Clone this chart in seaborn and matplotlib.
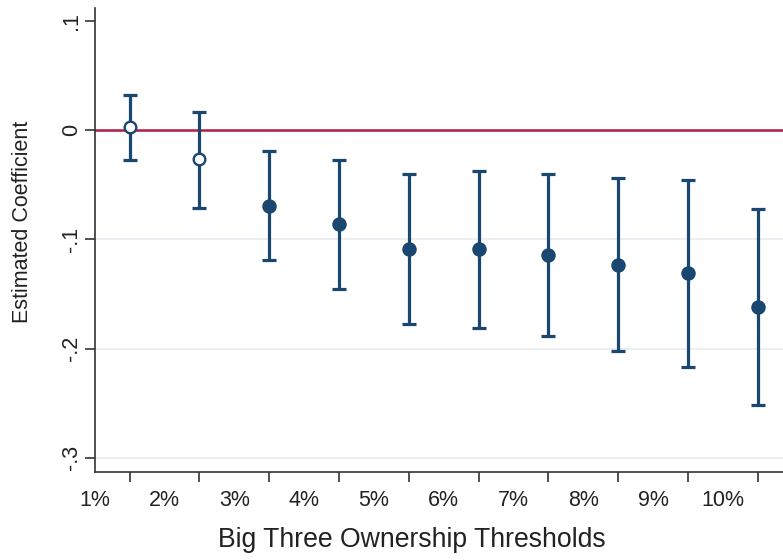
import matplotlib
matplotlib.use("Agg")
import matplotlib.pyplot as plt
import numpy as np
import pandas as pd
import seaborn as sns

# estimates
thresholds = ['1%', '2%', '3%', '4%', '5%', '6%', '7%', '8%', '9%', '10%']
coef = [0.003, -0.026, -0.069, -0.086, -0.109, -0.109, -0.114, -0.123, -0.131, -0.162]
ci_lo = [-0.027, -0.071, -0.119, -0.145, -0.177, -0.181, -0.188, -0.202, -0.217, -0.252]
ci_hi = [0.032, 0.017, -0.019, -0.027, -0.040, -0.037, -0.040, -0.044, -0.046, -0.072]
yticks = [-0.3, -0.2, -0.1, 0, 0.1]
ytick_labels = ['-.3', '-.2', '-.1', '0', '.1']

navy = '#1a476f'
red = '#b01c44'

sns.set_style("ticks")
plt.rcParams['font.family'] = ['Liberation Sans', 'DejaVu Sans']

df = pd.DataFrame({'pos': np.arange(1, len(coef) + 1), 'coef': coef,
                   'lo': ci_lo, 'hi': ci_hi})
df['signif'] = df['hi'] < 0

fig = plt.figure(figsize=(7.83, 5.6), dpi=100)
ax = fig.add_axes([0.121, 0.157, 0.879, 0.829])

for y in yticks[:3]:
    ax.axhline(y, color='#e9eef2', lw=1.3, zorder=0)
ax.axhline(0, color=red, lw=1.8, zorder=1)

ax.errorbar(df['pos'], df['coef'],
            yerr=[df['coef'] - df['lo'], df['hi'] - df['coef']],
            fmt='none', ecolor=navy, elinewidth=2.3, capsize=5, capthick=2.3, zorder=2)

sns.scatterplot(data=df[df['signif']], x='pos', y='coef', color=navy,
                edgecolor=navy, s=85, linewidth=1.2, zorder=3, ax=ax)
sns.scatterplot(data=df[~df['signif']], x='pos', y='coef', color='white',
                edgecolor=navy, s=70, linewidth=1.7, zorder=3, ax=ax)

ax.set_xlim(0.5, 10.36)
ax.set_ylim(-0.313, 0.112)

# ticks at the estimates, labels sit between them
ax.set_xticks(df['pos'])
ax.set_xticklabels([])
ax.set_xticks(df['pos'] - 0.5, minor=True)
ax.set_xticklabels(thresholds, minor=True)
ax.tick_params(axis='x', which='major', length=7, width=1.2, color='#333333')
ax.tick_params(axis='x', which='minor', length=0, pad=13, labelsize=15.5, labelcolor='#222222')

ax.set_yticks(yticks)
ax.set_yticklabels(ytick_labels, rotation=90, va='center')
ax.tick_params(axis='y', length=7, width=1.2, color='#333333', pad=2,
               labelsize=15.5, labelcolor='#222222')

sns.despine(ax=ax, top=True, right=True)
for s in ['left', 'bottom']:
    ax.spines[s].set_color('#333333')
    ax.spines[s].set_linewidth(1.2)

ax.set_xlabel('Big Three Ownership Thresholds', fontsize=19.2, color='#222222')
ax.xaxis.set_label_coords(0.46, -0.118)
ax.set_ylabel('Estimated Coefficient', fontsize=15.5, color='#222222')
ax.yaxis.set_label_coords(-0.09, 0.54)

fig.savefig('out.png', dpi=100)
